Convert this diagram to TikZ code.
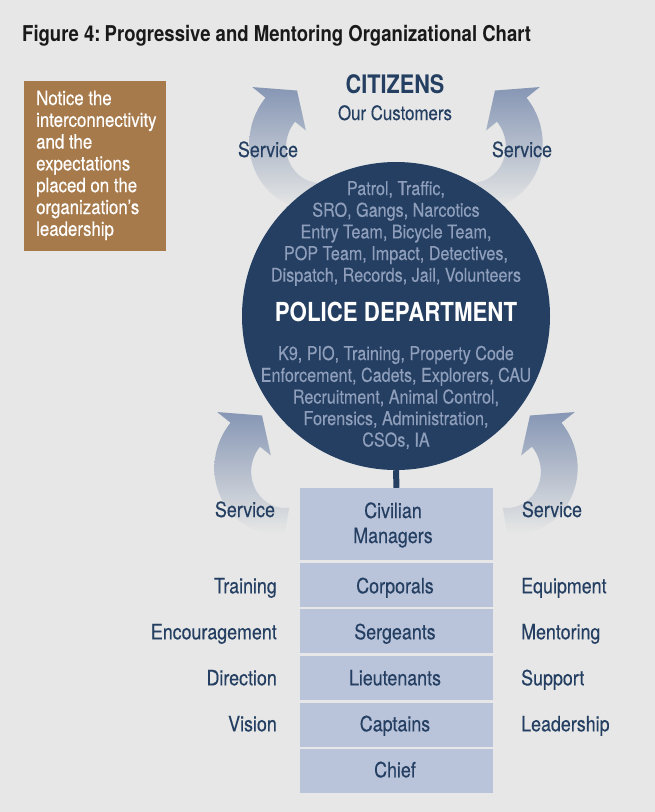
\documentclass[tikz,border=0pt]{standalone}
\usepackage{fontspec}
\setmainfont{TeX Gyre Heros}[FakeStretch=0.85]
\newfontfamily\medfont{TeX Gyre Heros}[FakeStretch=0.85,FakeBold=0.3]
\definecolor{bgc}{HTML}{E6E7E6}
\definecolor{navy}{HTML}{243F62}
\definecolor{lightt}{HTML}{8E9EBB}
\definecolor{boxc}{HTML}{B9C3D9}
\definecolor{notebrown}{HTML}{A77A4B}
\definecolor{arrowc}{HTML}{8696B4}
\definecolor{arrowm}{HTML}{A9B3C9}
\newcommand\fsz[1]{\fontsize{#1}{#1}\selectfont}
\begin{document}
\begin{tikzpicture}[x=1pt,y=-1pt,
  txt/.style={inner sep=0, anchor=base, text=navy},
  ctxt/.style={inner sep=0, anchor=base, text=lightt, font=\medfont\fsz{19}},
  rank/.style={rectangle, fill=boxc, minimum width=193, minimum height=44, inner sep=0},
  lab/.style={inner sep=0, text=navy, font=\medfont\fsz{21}},
  svcarrow/.pic={
    \shade[top color=arrowc, middle color=arrowm, bottom color=bgc]
      plot[domain=100:219, samples=40, variable=\t]
        ({(83-25*((219-\t)/119)^2)*cos(\t)}, {(83-25*((219-\t)/119)^2)*sin(\t)})
      -- (219:100) -- (241:68) -- (219:31)
      -- plot[domain=219:100, samples=40, variable=\t]
        ({(45-12*((219-\t)/119)^2)*cos(\t)}, {(45-12*((219-\t)/119)^2)*sin(\t)})
      -- cycle;
  }]
\fill[bgc] (0,0) rectangle (655,812);
\useasboundingbox (0,0) rectangle (655,812);

% title
\node[inner sep=0, anchor=base west, text=black!90, font=\bfseries\fsz{21.8}] (title) at (22,41)
  {Figure 4:\kern-1pt\ Progressive and Mentoring Organizational Chart};

% note box
\fill[notebrown] (24,81) rectangle (166,251);
\foreach \ln/\yy [count=\i] in {Notice the/105, interconnectivity/126.8, and the/148.6,
  expectations/170.4, placed on the/192.2, organization’s/214, leadership/235.8}
  \node[inner sep=0, anchor=base west, text=white, font=\medfont\fsz{19.8}] (note\i) at (36,\yy) {\ln};

% service arrows
\pic at (330,150) {svcarrow};
\pic[xscale=-1] at (462,150) {svcarrow};
\pic at (295,475) {svcarrow};
\pic[xscale=-1] at (497,475) {svcarrow};

% citizens
\node[txt, font=\bfseries\fsz{25.5}] (cit) at (395,93) {CITIZENS};
\node[txt, font=\medfont\fsz{19.8}] (cust) at (395,120) {Our Customers};
\node[txt, font=\medfont\fsz{21}] (svc1) at (268,157) {Service};
\node[txt, font=\medfont\fsz{21}] (svc2) at (522,157) {Service};
\node[txt, font=\medfont\fsz{21}] (svc3) at (245,517) {Service};
\node[txt, font=\medfont\fsz{21}] (svc4) at (552,517) {Service};

% police department circle
\node[circle, fill=navy, minimum size=308, inner sep=0] (pd) at (396,316) {};
\node[ctxt] (u1) at (396,195) {Patrol, Traffic,};
\node[ctxt] (u2) at (396,216.7) {SRO, Gangs, Narcotics};
\node[ctxt] (u3) at (396,238.4) {Entry Team, Bicycle Team,};
\node[ctxt] (u4) at (396,260) {POP Team, Impact, Detectives,};
\node[ctxt] (u5) at (396,281.7) {Dispatch, Records, Jail, Volunteers};
\node[inner sep=0, anchor=base, text=white, font=\bfseries\fsz{26.2}] (pdt) at (396,321) {POLICE DEPARTMENT};
\node[ctxt] (l1) at (396,360) {K9, PIO, Training, Property Code};
\node[ctxt] (l2) at (396,381.8) {Enforcement, Cadets, Explorers, CAU};
\node[ctxt] (l3) at (396,403.5) {Recruitment, Animal Control,};
\node[ctxt] (l4) at (396,425) {Forensics, Administration,};
\node[ctxt] (l5) at (396,446.5) {CSOs, IA};

% ranks
\node[rank, minimum height=72] (civ) at (396.5,524) {};
\node[rank] (corp) at (396.5,585) {};
\node[rank] (serg) at (396.5,631) {};
\node[rank] (lieu) at (396.5,678) {};
\node[rank] (capt) at (396.5,724.5) {};
\node[rank] (chief) at (396.5,771) {};
\draw[navy, line width=6] (pd.south) -- (civ.north);

\node[txt, font=\medfont\fsz{21}] (civt1) at (393,518) {Civilian};
\node[txt, font=\medfont\fsz{21}] (civt2) at (393,543) {Managers};
\node[txt, font=\medfont\fsz{21}] (corpt) at (395,593.3) {Corporals};
\node[txt, font=\medfont\fsz{21}] (sergt) at (395,639.3) {Sergeants};
\node[txt, font=\medfont\fsz{21}] (lieut) at (395,685.3) {Lieutenants};
\node[txt, font=\medfont\fsz{21}] (captt) at (395,731.3) {Captains};
\node[txt, font=\medfont\fsz{21}] (chieft) at (395,777.3) {Chief};

% side labels
\node[lab, anchor=base east] (ltr) at (277,593.3) {Training};
\node[lab, anchor=base east] (len) at (277,639.3) {Encouragement};
\node[lab, anchor=base east] (ldi) at (277,685.3) {Direction};
\node[lab, anchor=base east] (lvi) at (277,731.3) {Vision};
\node[lab, anchor=base west] (req) at (521,593.3) {Equipment};
\node[lab, anchor=base west] (rme) at (521,639.3) {Mentoring};
\node[lab, anchor=base west] (rsu) at (521,685.3) {Support};
\node[lab, anchor=base west] (rle) at (521,731.3) {Leadership};
\end{tikzpicture}
\end{document}
